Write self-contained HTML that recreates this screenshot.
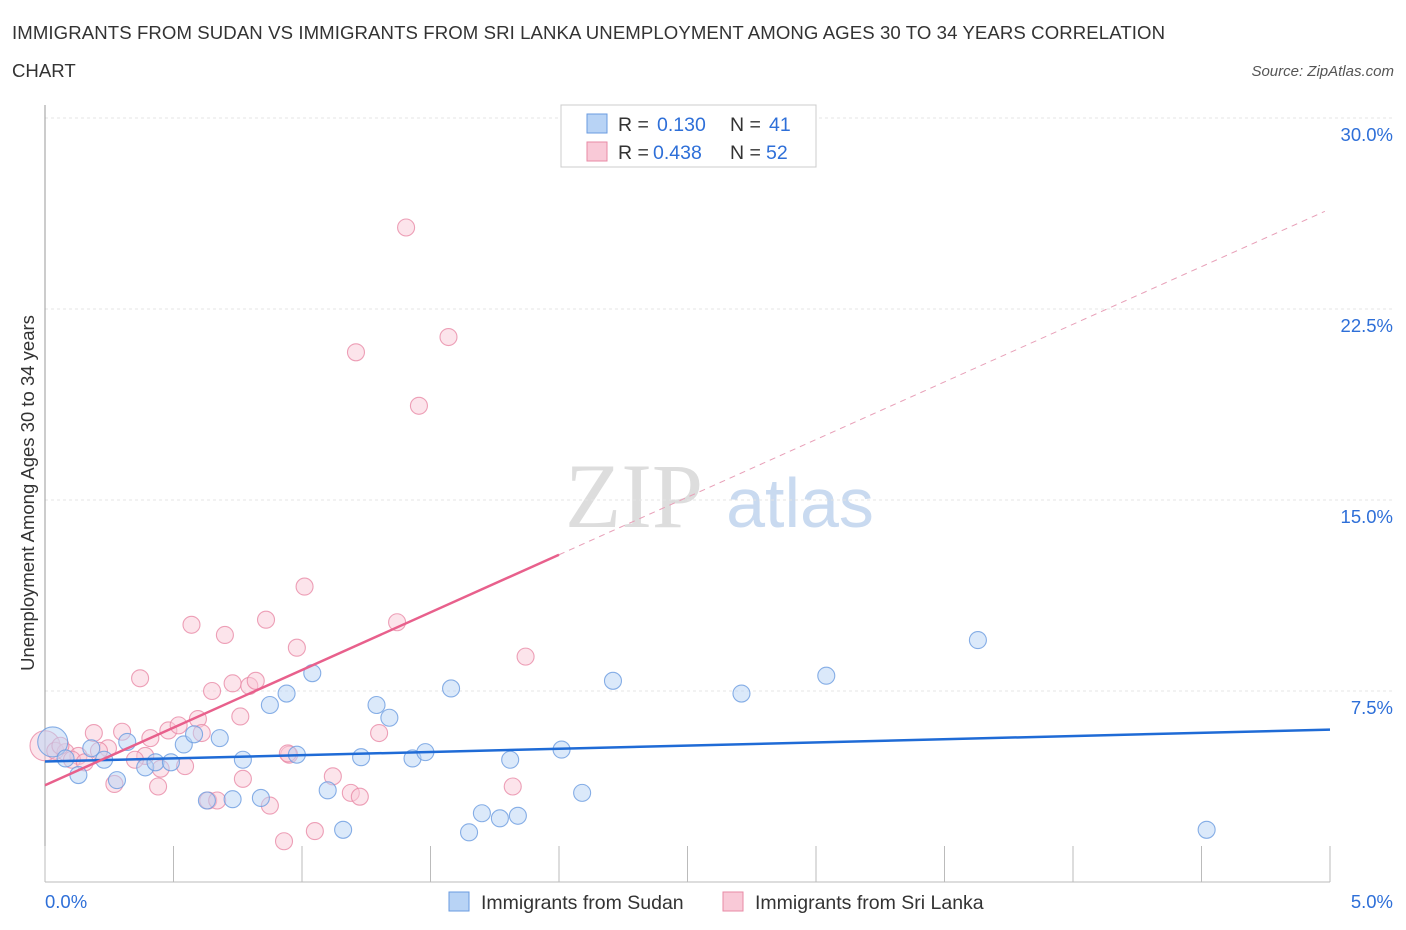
<!DOCTYPE html>
<html><head><meta charset="utf-8"><style>
body{margin:0;background:#fff;font-family:"Liberation Sans",sans-serif;}
#c{position:absolute;left:0;top:0;}
</style></head><body>
<svg id="c" width="1406" height="930" xmlns="http://www.w3.org/2000/svg">
<text x="12" y="39" font-size="18.6" fill="#333" textLength="1153">IMMIGRANTS FROM SUDAN VS IMMIGRANTS FROM SRI LANKA UNEMPLOYMENT AMONG AGES 30 TO 34 YEARS CORRELATION</text>
<text x="12" y="77" font-size="18.6" fill="#333">CHART</text>
<text x="1394" y="76" font-size="15" fill="#555" font-style="italic" text-anchor="end">Source: ZipAtlas.com</text>
<text x="634" y="527" font-size="92" fill="#ddd" font-family="Liberation Serif,serif" text-anchor="middle">ZIP</text>
<text x="800" y="527" font-size="70" fill="#c9daf0" text-anchor="middle">atlas</text>
<text transform="translate(34,493) rotate(-90)" font-size="18.5" fill="#333" text-anchor="middle">Unemployment Among Ages 30 to 34 years</text>
<g id="grid"></g><g id="pts"></g><g id="lines"></g>
<g>
<rect x="561" y="105" width="255" height="62" fill="#fff" stroke="#ccc"/>
<rect x="587" y="114" width="20" height="19" fill="#b8d3f5" stroke="#6a9be0"/>
<rect x="587" y="142" width="20" height="19" fill="#f9c9d7" stroke="#e88aa6"/>
<text x="618" y="131" font-size="19.5" fill="#333">R =</text><text x="657" y="131" font-size="19.5" fill="#2e6fd8">0.130</text>
<text x="730" y="131" font-size="19.5" fill="#333">N =</text><text x="769" y="131" font-size="19.5" fill="#2e6fd8">41</text>
<text x="618" y="159" font-size="19.5" fill="#333">R =</text><text x="653" y="159" font-size="19.5" fill="#2e6fd8">0.438</text>
<text x="730" y="159" font-size="19.5" fill="#333">N =</text><text x="766" y="159" font-size="19.5" fill="#2e6fd8">52</text>
</g>
<g>
<rect x="449" y="892" width="20" height="19" fill="#b8d3f5" stroke="#6a9be0"/>
<text x="481" y="909" font-size="19.5" fill="#333">Immigrants from Sudan</text>
<rect x="723" y="892" width="20" height="19" fill="#f9c9d7" stroke="#e88aa6"/>
<text x="755" y="909" font-size="19.5" fill="#333">Immigrants from Sri Lanka</text>
</g>
<text x="45" y="908" font-size="18.5" fill="#2e6fd8">0.0%</text>
<text x="1393" y="908" font-size="18.5" fill="#2e6fd8" text-anchor="end">5.0%</text>
</svg>
<script>
const NS="http://www.w3.org/2000/svg";
const yTicks=[7.5,15,22.5,30];
const xTickVals=[0,0.5,1,1.5,2,2.5,3,3.5,4,4.5,5];
const sudanX=[0.03,0.13,0.18,0.23,0.28,0.32,0.39,0.43,0.49,0.54,0.58,0.63,0.68,0.73,0.77,0.84,0.875,0.94,0.98,1.04,1.1,1.16,1.23,1.29,1.34,1.43,1.48,1.58,1.65,1.7,1.77,1.81,1.84,2.01,2.09,2.21,2.71,3.04,3.63,4.52,0.08];
const sudanY=[5.5,4.2,5.25,4.8,4.0,5.5,4.5,4.7,4.7,5.4,5.8,3.2,5.65,3.25,4.8,3.3,6.95,7.4,5.0,8.2,3.6,2.05,4.9,6.95,6.45,4.85,5.1,7.6,1.95,2.7,2.5,4.8,2.6,5.2,3.5,7.9,7.4,8.1,9.5,2.05,4.85];
const lankaX=[0.0,0.04,0.08,0.13,0.19,0.245,0.27,0.3,0.37,0.39,0.44,0.45,0.48,0.52,0.545,0.57,0.595,0.635,0.65,0.67,0.7,0.73,0.76,0.77,0.795,0.82,0.86,0.875,0.93,0.95,0.98,1.01,1.05,1.12,1.19,1.21,1.225,1.3,1.37,1.405,1.455,1.57,1.82,1.87,0.06,0.105,0.155,0.21,0.35,0.41,0.61,0.945];
const lankaY=[5.35,5.15,5.1,4.95,5.85,5.25,3.85,5.9,8.0,4.95,3.75,4.45,5.95,6.15,4.55,10.1,6.4,3.2,7.5,3.2,9.7,7.8,6.5,4.05,7.7,7.9,10.3,3.0,1.6,5.0,9.2,11.6,2.0,4.15,3.5,20.8,3.35,5.85,10.2,25.7,18.7,21.4,3.75,8.85,5.35,4.8,4.7,5.15,4.8,5.65,5.85,5.05];
const X0=45,X1=1330,Y0=882,YPX=191/7.5;
const xs=v=>X0+(X1-X0)*v/5, ys=v=>Y0-v*YPX;
function mk(t,a,p){const e=document.createElementNS(NS,t);for(const k in a)e.setAttribute(k,a[k]);p.appendChild(e);return e;}
const grid=document.getElementById('grid');
yTicks.forEach(t=>{
 const l=mk('line',{x1:X0,x2:1393,y1:ys(t),y2:ys(t),stroke:'#e4e4e4','stroke-dasharray':'3,3'},grid);
 
 
 const tx=mk('text',{x:1393,y:ys(t)+23,'font-size':18.5,fill:'#2e6fd8','text-anchor':'end'},grid);
 tx.textContent=t.toFixed(1)+'%';
 
 
});
mk('line',{x1:X0,x2:X0,y1:105,y2:Y0,stroke:'#999'},grid);
mk('line',{x1:X0,x2:X1,y1:Y0,y2:Y0,stroke:'#bbb'},grid);
xTickVals.forEach(v=>{const l=mk('line',{x1:xs(v),x2:xs(v),y1:Y0,y2:Y0-36,stroke:'#bbb'},grid);
 
 });
const pts=document.getElementById('pts');
function draw(X,Y,fill,stroke,name){X.forEach((v,i)=>{const r=(i===0)?15:8.5;
 const c=mk('circle',{cx:xs(v),cy:ys(Y[i]),r:r,fill:fill,'fill-opacity':0.5,stroke:stroke,'stroke-width':1.1,'stroke-opacity':0.8},pts);
 
 });}
draw(lankaX,lankaY,'#f9c9d7','#e88aa6','point-srilanka');
draw(sudanX,sudanY,'#b8d3f5','#6a9be0','point-sudan');
const ln=document.getElementById('lines');
function fit(X,Y){const n=X.length;let mx=0,my=0;X.forEach((v,i)=>{mx+=v;my+=Y[i];});mx/=n;my/=n;let sxy=0,sxx=0;X.forEach((v,i)=>{sxy+=(v-mx)*(Y[i]-my);sxx+=(v-mx)**2;});const b=sxy/sxx;return [my-b*mx,b];}
const [a1,b1]=fit(sudanX,sudanY);
let l1=mk('line',{x1:xs(0),y1:ys(a1),x2:xs(5),y2:ys(a1+5*b1),stroke:'#1f6bd6','stroke-width':2.5},ln);


const a2=3.8,b2=(12.85-3.8)/2.0;
let l2=mk('line',{x1:xs(0),y1:ys(a2),x2:xs(2.0),y2:ys(a2+2.0*b2),stroke:'#e8608c','stroke-width':2.5},ln);


let l3=mk('line',{x1:xs(2.0),y1:ys(a2+2.0*b2),x2:xs(4.98),y2:ys(a2+4.98*b2),stroke:'#e8a0b8','stroke-width':1,'stroke-dasharray':'6,5'},ln);


</script>
</body></html>
